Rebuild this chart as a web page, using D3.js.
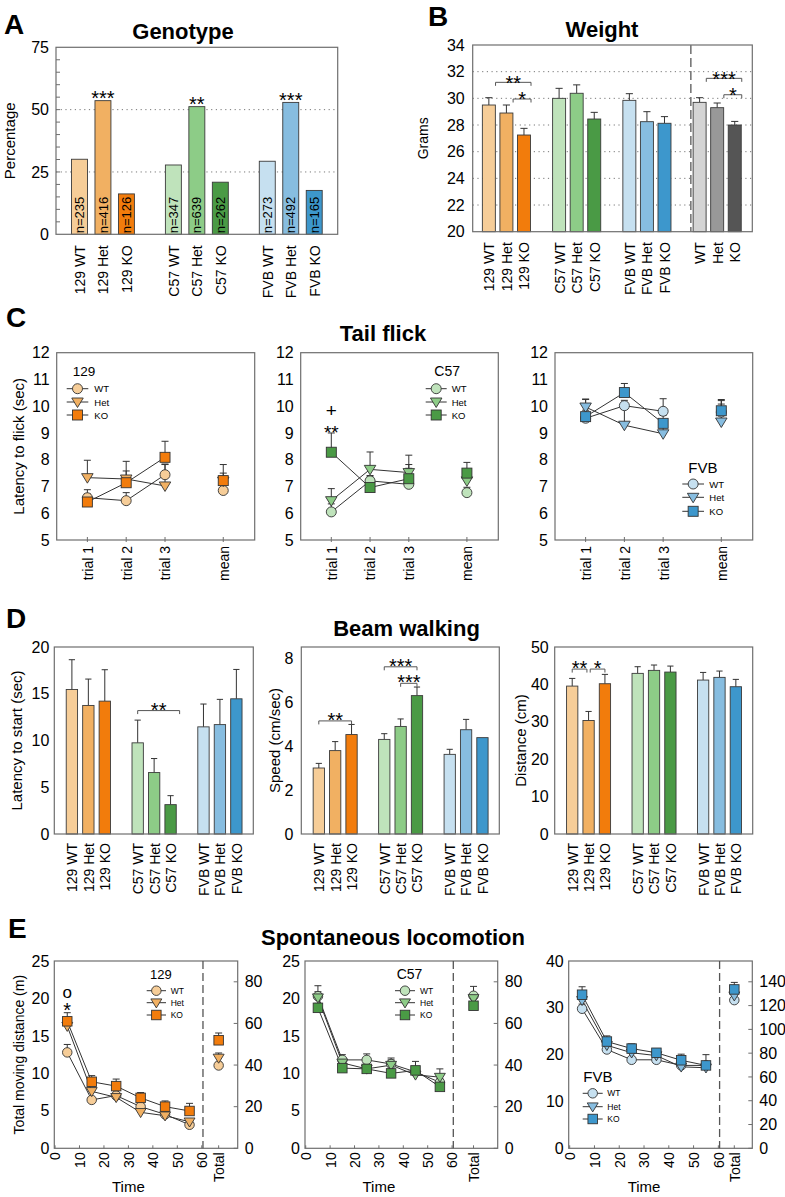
<!DOCTYPE html>
<html><head><meta charset="utf-8">
<script src="https://cdn.jsdelivr.net/npm/d3@7"></script>
<style>
body{margin:0;background:#fff}
svg{display:block}
</style>
</head><body>
<svg id="fig" width="785" height="1197"></svg>
<script>
// ---------------- DATA ----------------
const genos = ["WT","Het","KO"];
const pal129 = ["#f6cd98","#f1b062","#f27c0c"];
const palC57 = ["#bfe3bb","#8dcc87","#4a9a45"];
const palFVB = ["#c6e0f0","#87bde0","#3d97cc"];
const palAll = ["#d4d4d4","#989898","#555555"];
const groupLabels = ["129 WT","129 Het","129 KO","C57 WT","C57 Het","C57 KO","FVB WT","FVB Het","FVB KO"];
const pooledLabels = ["WT","Het","KO"];

// A Genotype
const genoPct = [30.1,53.6,16.2,27.8,51.2,20.9,29.3,52.9,17.6];
const genoN = ["n=235","n=416","n=126","n=347","n=639","n=262","n=273","n=492","n=165"];
const genoSig = ["","***","","","**","","","***",""];
const pctTicks = [0,25,50,75];

// B Weight
const weightMean = [29.5,28.9,27.25,30.0,30.38,28.45,29.85,28.25,28.13,29.7,29.3,28.0];
const weightSE = [0.55,0.6,0.5,0.75,0.63,0.5,0.5,0.75,0.5,0.35,0.35,0.27];
const gramTicks = [20,22,24,26,28,30,32,34];

// C Tail flick (rows: WT, Het, KO; columns: trial 1, trial 2, trial 3, mean)
const flickTrials = ["trial 1","trial 2","trial 3","mean"];
const flickTicks = [5,6,7,8,9,10,11,12];
const flick129 = [[6.58,6.47,7.44,6.85],[7.33,7.28,7.02,7.2],[6.42,7.14,8.09,7.22]];
const flick129Err = [[0.3,0.3,0.4,0.25],[0.65,0.3,0.8,0.3],[0.3,0.8,0.6,0.6]];
const flickC57 = [[6.05,7.21,7.08,6.77],[6.47,7.64,7.52,7.21],[8.28,6.96,7.29,7.5]];
const flickC57Err = [[0.3,0.2,0.6,0.2],[0.45,0.65,0.3,0.3],[0.72,0.4,0.88,0.4]];
const flickFVB = [[9.55,10.02,9.81,9.78],[9.97,9.29,8.97,9.41],[9.61,10.51,9.36,9.83]];
const flickFVBErr = [[0.3,0.2,0.47,0.3],[0.3,0.6,0.3,0.8],[0.64,0.34,0.3,0.42]];

// D Beam walking
const latency = [15.46,13.75,14.21,9.75,6.57,3.14,11.46,11.7,14.46];
const latencyErr = [3.18,2.82,3.36,2.43,1.5,0.96,2.44,2.7,3.14];
const latencyTicks = [0,5,10,15,20];
const speed = [3.0,3.79,4.52,4.3,4.89,6.29,3.62,4.74,4.38];
const speedErr = [0.21,0.41,0.46,0.26,0.34,0.39,0.23,0.47,0];
const speedTicks = [0,2,4,6,8];
const dist = [39.55,30.36,40.18,42.95,43.75,43.3,41.16,41.88,39.38];
const distErr = [2.05,2.41,2.5,1.78,1.43,1.6,2.04,1.69,1.96];
const distTicks = [0,10,20,30,40,50];

// E Spontaneous locomotion (rows: WT, Het, KO)
const timeBins = [5,15,25,35,45,55];
const timeTicks = [0,10,20,30,40,50,60];
const loco129 = [[12.8,6.46,7.04,5.56,4.53,3.14],[16.3,7.6,6.8,4.8,4.35,3.54],[16.95,8.88,8.3,6.73,5.56,4.98]];
const loco129Err = [[1.06,0.3,0.35,0.35,0.3,0.3],[0.4,0.3,0.3,0.3,0.3,0.3],[1.15,0.82,0.94,0.71,0.76,1.02]];
const total129 = [39.8,43.4,51.9];
const total129Err = [1.5,2.4,3.5];
const locoC57 = [[20.3,11.8,11.8,11.25,10.2,8.8],[20.1,11.4,10.6,11.1,9.8,9.5],[18.75,10.7,10.6,10.0,10.4,8.2]];
const locoC57Err = [[1.4,0.7,0.8,0.8,0.6,0.5],[0.8,0.5,0.5,0.7,0.5,1.1],[0.6,0.4,0.5,0.5,1.2,0.5]];
const totalC57 = [73.3,72.0,68.5];
const totalC57Err = [4.5,2.0,2.0];
const locoFVB = [[29.8,21.1,18.9,18.9,17.7,17.7],[31.6,22.0,20.4,19.8,17.4,17.2],[32.8,22.8,21.3,20.4,18.8,17.7]];
const locoFVBErr = [[1.0,0.9,0.6,0.6,0.6,0.6],[1.0,0.9,0.8,0.8,0.8,1.0],[1.7,1.2,1.0,0.9,1.3,2.3]];
const totalFVB = [124.6,128.3,133.6];
const totalFVBErr = [2.0,2.5,5.9];

// ---------------- DRAWING ----------------
const FONT = "'Liberation Sans', Arial, Helvetica, sans-serif";
const FRAME = "#6e6e6e";
const INK = "#333";
const fmt = d3.format("~g");
const svg = d3.select("#fig").attr("font-family", FONT);

function text(g, x, y, s, fs, o = {}) {
  const t = g.append("text").attr("x", x).attr("y", y).text(s)
    .attr("font-size", fs).attr("font-family", FONT).attr("fill", o.fill || "#000")
    .attr("text-anchor", o.anchor || "start");
  if (o.bold) t.attr("font-weight", "bold");
  if (o.db) t.attr("dominant-baseline", o.db);
  return t;
}
function vlabel(g, x, y, s, fs) {
  g.append("text").attr("transform", `translate(${x},${y}) rotate(-90)`)
    .attr("text-anchor", "middle").attr("dominant-baseline", "central")
    .attr("font-size", fs).attr("font-family", FONT).text(s);
}
function frame(g, x0, y0, x1, y1) {
  g.append("rect").attr("x", x0).attr("y", y0).attr("width", x1 - x0).attr("height", y1 - y0)
    .attr("fill", "none").attr("stroke", FRAME).attr("stroke-width", 1.2);
}
function yAxisLeft(g, y, x0, ticks, fs, pad) {
  const ax = g.append("g").attr("transform", `translate(${x0},0)`)
    .call(d3.axisLeft(y).tickValues(ticks).tickFormat(fmt).tickSize(0).tickPadding(pad));
  ax.select(".domain").remove();
  ax.selectAll("text").attr("font-size", fs).attr("font-family", FONT).attr("fill", "#000");
  return ax;
}
function yAxisRight(g, y, x1, ticks, fs, pad) {
  const ax = g.append("g").attr("transform", `translate(${x1},0)`)
    .call(d3.axisRight(y).tickValues(ticks).tickFormat(fmt).tickSize(0).tickPadding(pad));
  ax.select(".domain").remove();
  ax.selectAll("text").attr("font-size", fs).attr("font-family", FONT).attr("fill", "#000");
  ticks.forEach(v => g.append("line").attr("x1", x1 - 4).attr("x2", x1).attr("y1", y(v)).attr("y2", y(v)).attr("stroke", FRAME));
  return ax;
}
function rotatedBottom(g, x, y1, vals, labels, fs, off) {
  const ax = g.append("g").attr("transform", `translate(0,${y1})`)
    .call(d3.axisBottom(x).tickValues(vals).tickFormat((d, i) => labels[i]).tickSize(0));
  ax.select(".domain").remove();
  ax.selectAll("text").attr("transform", "rotate(-90)").attr("text-anchor", "end")
    .attr("x", -off).attr("y", 0).attr("dy", "0.35em")
    .attr("font-size", fs).attr("font-family", FONT).attr("fill", "#000");
  return ax;
}
function stars(g, cx, cy, s, fs) {
  // asterisk glyph sits high: visual centre ~0.57em above baseline
  text(g, cx, cy + 0.57 * fs, s, fs, { anchor: "middle" });
}
function bracket(g, xa, xb, yy, drop) {
  g.append("path").attr("d", `M${xa},${yy + drop}V${yy}H${xb}V${yy + drop}`)
    .attr("fill", "none").attr("stroke", "#555").attr("stroke-width", 1);
}
function errBar(g, x, y0, y1, cap, color) {
  g.append("line").attr("x1", x).attr("x2", x).attr("y1", y0).attr("y2", y1).attr("stroke", color || INK).attr("stroke-width", 1);
  g.append("line").attr("x1", x - cap / 2).attr("x2", x + cap / 2).attr("y1", y1).attr("y2", y1).attr("stroke", color || INK).attr("stroke-width", 1);
}
function marker(g, type, cx, cy, fill, s) {
  let el;
  if (type === 0) el = g.append("circle").attr("cx", cx).attr("cy", cy).attr("r", s / 2);
  else if (type === 1) {
    const h = s * 0.95, w = s * 1.15;
    el = g.append("path").attr("d", `M${cx - w / 2},${cy - h * 0.42}L${cx + w / 2},${cy - h * 0.42}L${cx},${cy + h * 0.58}Z`);
  } else el = g.append("rect").attr("x", cx - s / 2).attr("y", cy - s / 2).attr("width", s).attr("height", s);
  el.attr("fill", fill).attr("stroke", INK).attr("stroke-width", 0.9);
}
function legend(g, title, tx, ty, tfs, ys, lx0, lx1, labX, lfs, pal, ms) {
  text(g, tx, ty, title, tfs);
  ys.forEach((yy, i) => {
    g.append("line").attr("x1", lx0).attr("x2", lx1).attr("y1", yy).attr("y2", yy).attr("stroke", INK).attr("stroke-width", 1);
    marker(g, i, (lx0 + lx1) / 2, yy, pal[i], ms);
    text(g, labX, yy, genos[i], lfs, { db: "central" });
  });
}
function panelLetter(s, x, y) { text(svg, x, y, s, 28, { bold: true }); }
function title(s, cx, y) { text(svg, cx, y, s, 22, { bold: true, anchor: "middle" }); }

// ---------- Bar panel ----------
function barPanel(o) {
  const g = svg.append("g");
  const x = d3.scaleLinear().domain(o.xd).range([o.x0, o.x1]);
  const y = d3.scaleLinear().domain(o.yd).range([o.y1, o.y0]);
  const bw = (x(1) - x(0)) * o.bwf;
  (o.grid || []).forEach(v => g.append("line").attr("x1", o.x0).attr("x2", o.x1).attr("y1", y(v)).attr("y2", y(v))
    .attr("stroke", "#777").attr("stroke-width", 1).attr("stroke-dasharray", "1.2,3.5"));
  if (o.errs) o.values.forEach((v, i) => { if (o.errs[i] > 0) errBar(g, x(o.slots[i]), y(v), y(v + o.errs[i]), bw * 0.55); });
  g.selectAll("rect.bar").data(o.values).join("rect").attr("class", "bar")
    .attr("x", (d, i) => x(o.slots[i]) - bw / 2).attr("y", d => y(d))
    .attr("width", bw).attr("height", d => y(o.yd[0]) - y(d))
    .attr("fill", (d, i) => o.colors[i]).attr("stroke", "#3a3a3a").attr("stroke-width", 0.9);
  frame(g, o.x0, o.y0, o.x1, o.y1);
  yAxisLeft(g, y, o.x0, o.ticks, 16, o.pad);
  rotatedBottom(g, x, o.y1, o.slots, o.labels, 14, o.labOff);
  if (o.ylab) vlabel(g, o.ylabX, (o.y0 + o.y1) / 2, o.ylab, o.ylabFs || 15);
  return { g, x, y, bw };
}

const slots9 = [0, 1, 2, 4, 5, 6, 8, 9, 10];
const slots12 = [0, 1, 2, 4, 5, 6, 8, 9, 10, 12, 13, 14];
const colors9 = [...pal129, ...palC57, ...palFVB];

// ===== A =====
panelLetter("A", 4, 34);
title("Genotype", 183, 39);
{
  const p = barPanel({ x0: 56, x1: 337.7, y0: 47.3, y1: 234.3, xd: [-1, 11], yd: [0, 75], bwf: 0.68,
    values: genoPct, colors: colors9, slots: slots9, labels: groupLabels, ticks: pctTicks, pad: 7,
    grid: [25, 50], labOff: 11, ylab: "Percentage", ylabX: 9 });
  for (let v = 5; v < 75; v += 5) p.g.append("line").attr("x1", 56).attr("x2", 60).attr("y1", p.y(v)).attr("y2", p.y(v)).attr("stroke", FRAME);
  genoN.forEach((s, i) => {
    p.g.append("text").attr("transform", `translate(${p.x(slots9[i])},${p.y(0) - 1}) rotate(-90)`)
      .attr("dy", "0.35em").attr("font-size", 13).attr("font-family", FONT).text(s);
  });
  genoSig.forEach((s, i) => { if (s) stars(p.g, p.x(slots9[i]), p.y(genoPct[i]) - 7, s, 20); });
}

// ===== B =====
panelLetter("B", 428, 26);
title("Weight", 602, 37);
{
  const p = barPanel({ x0: 472.7, x1: 752.3, y0: 45, y1: 231.7, xd: [-0.92, 15], yd: [20, 34], bwf: 0.74,
    values: weightMean, errs: weightSE, colors: [...colors9, ...palAll], slots: slots12,
    labels: [...groupLabels, ...pooledLabels], ticks: gramTicks, pad: 8,
    grid: [22, 24, 26, 28, 30, 32], labOff: 10.5, ylab: "Grams", ylabX: 423, ylabFs: 14 });
  p.g.append("line").attr("x1", p.x(11.5)).attr("x2", p.x(11.5)).attr("y1", 45).attr("y2", 231.7)
    .attr("stroke", "#777").attr("stroke-width", 1.6).attr("stroke-dasharray", "9,4");
  const bk = [[0, 2, 31.2, "**"], [1, 2, 29.95, "*"], [12, 14, 31.5, "***"], [13, 14, 30.27, "*"]];
  bk.forEach(([a, b, v, s]) => {
    const xa = p.x(a + 0.38), xb = p.x(b + 0.4), yy = p.y(v);
    bracket(p.g, xa, xb, yy, 3.5);
    stars(p.g, (xa + xb) / 2, yy - 4, s, 20);
  });
}

// ---------- Tail flick panel ----------
function flickPanel(o) {
  const g = svg.append("g");
  const x = d3.scaleLinear().domain([0.21, 5.31]).range([o.x0, o.x1]);
  const y = d3.scaleLinear().domain([5, 12]).range([o.y1, o.y0]);
  const pos = flickTrials.map((t, i) => (i < 3 ? i + 1 : 4.5));
  frame(g, o.x0, o.y0, o.x1, o.y1);
  yAxisLeft(g, y, o.x0, flickTicks, 16, 7);
  pos.forEach(p => g.append("line").attr("x1", x(p)).attr("x2", x(p)).attr("y1", o.y1 - 3).attr("y2", o.y1 + 2).attr("stroke", FRAME));
  rotatedBottom(g, x, o.y1, pos, flickTrials, 14, 6);
  o.vals.forEach((row, gi) => row.forEach((v, j) => errBar(g, x(pos[j]), y(v), y(v + o.errs[gi][j]), 7)));
  const line = d3.line().x((d, j) => x(pos[j])).y(d => y(d));
  o.vals.forEach(row => g.append("path").attr("d", line(row.slice(0, 3))).attr("fill", "none").attr("stroke", INK).attr("stroke-width", 1));
  o.vals.forEach((row, gi) => row.forEach((v, j) => marker(g, gi, x(pos[j]), y(v), o.pal[gi], 10)));
  if (o.ylab) vlabel(g, o.ylabX, (o.y0 + o.y1) / 2, o.ylab, 15);
  return { g, x, y };
}
panelLetter("C", 6, 327);
title("Tail flick", 383, 341);
{
  const p1 = flickPanel({ x0: 56.7, x1: 254.7, y0: 352.7, y1: 540, vals: flick129, errs: flick129Err, pal: pal129, ylab: "Latency to flick (sec)", ylabX: 18 });
  legend(p1.g, "129", 72.7, 376, 13.5, [388.7, 402, 415], 66.7, 88.3, 94.3, 9.5, pal129, 10);
  const p2 = flickPanel({ x0: 300.7, x1: 498.3, y0: 352.7, y1: 540, vals: flickC57, errs: flickC57Err, pal: palC57 });
  legend(p2.g, "C57", 434.3, 376, 14, [388.7, 402, 415], 425.7, 446.7, 451.7, 9.5, palC57, 10);
  text(p2.g, p2.x(1), 411 + 0.33 * 19, "+", 19, { anchor: "middle" });
  stars(p2.g, p2.x(1), 427.7, "**", 19);
  const p3 = flickPanel({ x0: 555, x1: 752.7, y0: 352.7, y1: 540, vals: flickFVB, errs: flickFVBErr, pal: palFVB });
  legend(p3.g, "FVB", 688.3, 473.3, 15, [484, 497.3, 511.3], 682.3, 704, 709.3, 9.5, palFVB, 10);
}

// ===== D =====
panelLetter("D", 6, 628);
title("Beam walking", 406.5, 636);
{
  const common = { y0: 647, y1: 834, xd: [-1.07, 11.03], bwf: 0.69, colors: colors9, slots: slots9, labels: groupLabels, labOff: 9 };
  const d1 = barPanel({ ...common, x0: 54.3, x1: 253.3, yd: [0, 20], values: latency, errs: latencyErr, ticks: latencyTicks, pad: 5,
    ylab: "Latency to start (sec)", ylabX: 16 });
  { const xa = d1.x(4), xb = d1.x(6.55), yy = d1.y(13.2); bracket(d1.g, xa, xb, yy, 3.5); stars(d1.g, (xa + xb) / 2, yy - 5, "**", 20); }
  const d2 = barPanel({ ...common, x0: 301.3, x1: 499.3, yd: [0, 8.5], values: speed, errs: speedErr, ticks: speedTicks, pad: 8,
    ylab: "Speed (cm/sec)", ylabX: 274 });
  [[0, 2, 5.14, "**"], [4, 6, 7.6, "***"], [5, 6, 6.85, "***"]].forEach(([a, b, v, s]) => {
    const xa = d2.x(a), xb = d2.x(b), yy = d2.y(v); bracket(d2.g, xa, xb, yy, 3.5); stars(d2.g, (xa + xb) / 2, yy - 5.5, s, 20);
  });
  const d3p = barPanel({ ...common, x0: 554.7, x1: 752.7, yd: [0, 50], values: dist, errs: distErr, ticks: distTicks, pad: 6,
    ylab: "Distance (cm)", ylabX: 520 });
  [[0, 0.9, "**"], [1.1, 2, "*"]].forEach(([a, b, s]) => {
    const xa = d3p.x(a), xb = d3p.x(b), yy = d3p.y(44.1); bracket(d3p.g, xa, xb, yy, 3.5); stars(d3p.g, (xa + xb) / 2, yy - 5.5, s, 20);
  });
}

// ---------- Locomotion panel ----------
function locoPanel(o) {
  const g = svg.append("g");
  const x = d3.scaleLinear().domain([o.xmin, o.xmax]).range([o.x0, o.x1]);
  const yL = d3.scaleLinear().domain([0, o.lmax]).range([o.y1, o.y0]);
  const yR = d3.scaleLinear().domain([0, o.rmax]).range([o.y1, o.y0]);
  const tot = 60 + 0.47 * (o.xmax - 60);
  frame(g, o.x0, o.y0, o.x1, o.y1);
  g.append("line").attr("x1", x(60.5)).attr("x2", x(60.5)).attr("y1", o.y0).attr("y2", o.y1)
    .attr("stroke", "#555").attr("stroke-width", 1.3).attr("stroke-dasharray", "8,4");
  yAxisLeft(g, yL, o.x0, o.lticks, 16, 5);
  yAxisRight(g, yR, o.x1, o.rticks, 16, 7);
  const tv = [...timeTicks, tot];
  tv.forEach(v => g.append("line").attr("x1", x(v)).attr("x2", x(v)).attr("y1", o.y1 - 3).attr("y2", o.y1).attr("stroke", FRAME));
  rotatedBottom(g, x, o.y1, tv, [...timeTicks.map(String), "Total"], 14, 4);
  text(g, (x(0) + x(60)) / 2, 1192, "Time", 15, { anchor: "middle" });
  o.vals.forEach((row, gi) => row.forEach((v, j) => errBar(g, x(timeBins[j]), yL(v), yL(v + o.errs[gi][j]), 7)));
  o.tot.forEach((v, gi) => errBar(g, x(tot), yR(v), yR(v + o.totErr[gi]), 7));
  const line = d3.line().x((d, j) => x(timeBins[j])).y(d => yL(d));
  o.vals.forEach(row => g.append("path").attr("d", line(row)).attr("fill", "none").attr("stroke", INK).attr("stroke-width", 1));
  o.vals.forEach((row, gi) => row.forEach((v, j) => marker(g, gi, x(timeBins[j]), yL(v), o.pal[gi], 9.5)));
  o.tot.forEach((v, gi) => marker(g, gi, x(tot), yR(v), o.pal[gi], 9.5));
  if (o.ylab) vlabel(g, o.ylabX, (o.y0 + o.y1) / 2, o.ylab, 14);
  return { g, x, yL, yR };
}
panelLetter("E", 8, 938);
title("Spontaneous locomotion", 393, 945);
{
  const ey = { y0: 961, y1: 1148.3 };
  const e1 = locoPanel({ ...ey, x0: 54.3, x1: 237.7, xmin: -0.3, xmax: 74.7, lmax: 25, rmax: 90,
    lticks: [0, 5, 10, 15, 20, 25], rticks: [0, 20, 40, 60, 80], vals: loco129, errs: loco129Err, tot: total129, totErr: total129Err,
    pal: pal129, ylab: "Total moving distance (m)", ylabX: 19 });
  legend(e1.g, "129", 150, 978.5, 13, [990.7, 1002.7, 1015], 146.7, 166, 170.7, 8.5, pal129, 9.5);
  text(e1.g, e1.x(5), 992.7, "o", 17, { anchor: "middle", db: "central" });
  stars(e1.g, e1.x(5), 1006, "*", 20);
  const e2 = locoPanel({ ...ey, x0: 305, x1: 497.7, xmin: -0.3, xmax: 78.7, lmax: 25, rmax: 90,
    lticks: [0, 5, 10, 15, 20, 25], rticks: [0, 20, 40, 60, 80], vals: locoC57, errs: locoC57Err, tot: totalC57, totErr: totalC57Err,
    pal: palC57 });
  legend(e2.g, "C57", 396.7, 978.5, 14, [990.7, 1002.7, 1015], 395, 415, 420, 8.5, palC57, 9.5);
  const e3 = locoPanel({ ...ey, x0: 568.7, x1: 752.3, xmin: -0.4, xmax: 73.7, lmax: 40, rmax: 157.5,
    lticks: [0, 10, 20, 30, 40], rticks: [0, 20, 40, 60, 80, 100, 120, 140], vals: locoFVB, errs: locoFVBErr, tot: totalFVB, totErr: totalFVBErr,
    pal: palFVB });
  legend(e3.g, "FVB", 583.3, 1081.7, 15, [1093.3, 1106.7, 1119], 582.7, 602.7, 607.3, 8.5, palFVB, 9.5);
}
</script>
</body></html>
